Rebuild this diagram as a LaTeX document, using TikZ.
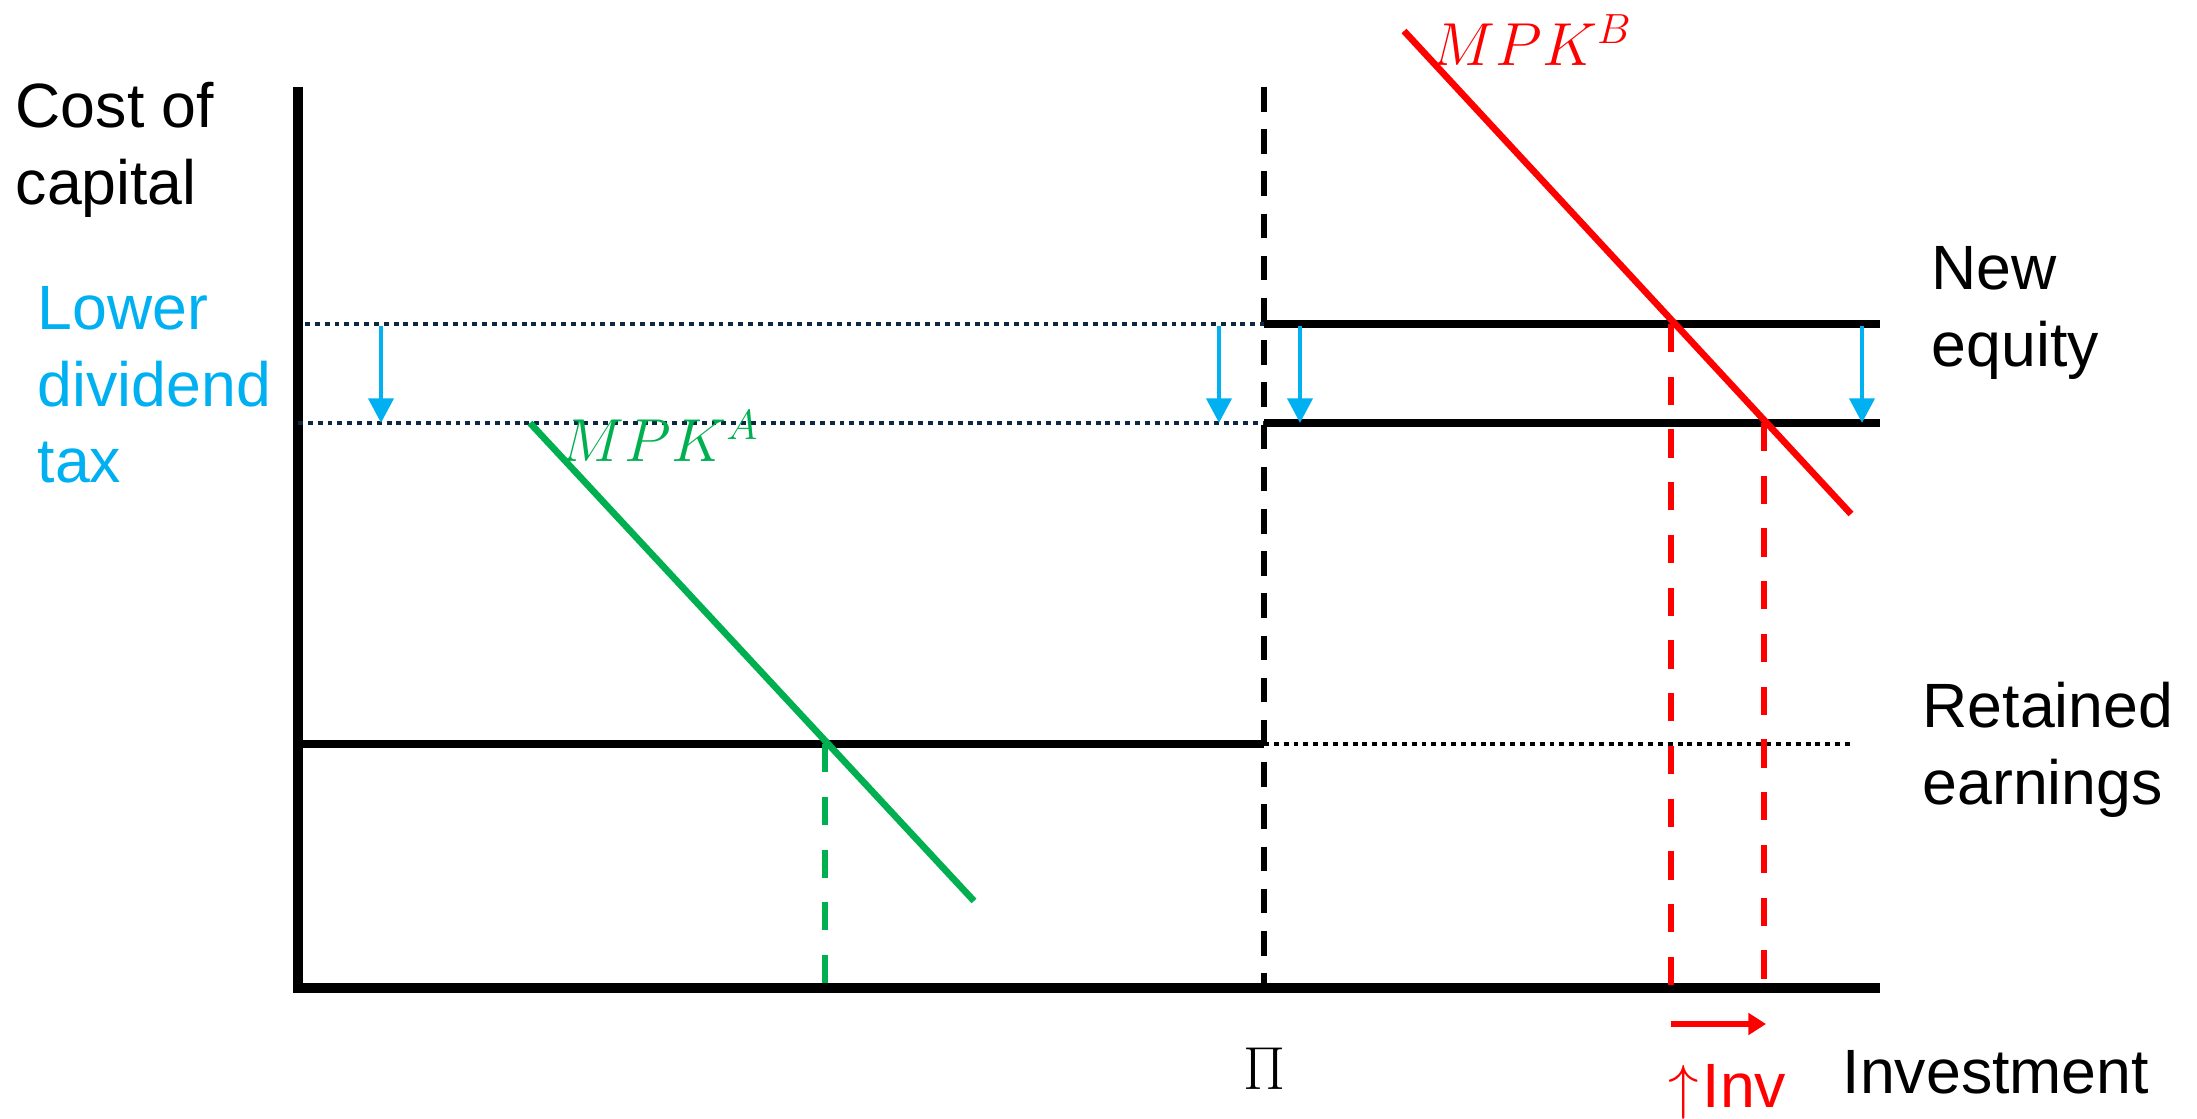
\documentclass[tikz,border=0pt]{standalone}
\usepackage{fontspec}
\setmainfont{Liberation Sans}
\usetikzlibrary{arrows.meta}
\definecolor{TaxBlue}{HTML}{00B0F0}
\definecolor{CurveGreen}{HTML}{00B050}
\definecolor{CurveRed}{HTML}{FF0000}
\definecolor{DotNavy}{HTML}{0E2841}

\begin{document}
\begin{tikzpicture}[
  x=0.01cm, y=-0.01cm,
  lbl/.style={align=left, inner sep=0pt, font=\fontsize{17.8}{21.8}\selectfont},
  mathlbl/.style={inner sep=0pt, font=\fontsize{17.5}{21.5}\selectfont},
  axisline/.style={line width=3pt},
  levelline/.style={line width=2.2pt},
  guideline/.style={line width=1pt, DotNavy, dash pattern=on 1.4pt off 1.4pt},
  curveline/.style={line width=1.9pt},
  dropline/.style={line width=1.8pt, dash pattern=on 8pt off 7pt},
  shiftarr/.style={-{Triangle[length=7pt,width=7pt]}, line width=1.4pt, TaxBlue}
]
\useasboundingbox (0,0) rectangle (2197,1119);

% axes
\coordinate (O) at (298,988);
\coordinate (ytop) at (298,87);
\coordinate (xend) at (1880,988);
\draw[axisline] (ytop) -- (O) -- (xend);

% kink at Pi
\coordinate (pitop) at (1264,87);
\coordinate (pibot) at (1264,988);
\draw[line width=1.5pt, dash pattern=on 7pt off 5pt] (pitop) -- (pibot);

% levels
\coordinate (hiL) at (305,324);
\coordinate (hiK) at (1264,324);
\coordinate (hiR) at (1880,324);
\coordinate (loL) at (298,423);
\coordinate (loK) at (1264,423);
\coordinate (loR) at (1880,423);
\coordinate (reL) at (298,744);
\coordinate (reK) at (1264,744);
\coordinate (reR) at (1852,744);
\draw[guideline] (hiL) -- (hiK);
\draw[guideline] (loL) -- (loK);
\draw[levelline] (hiK) -- (hiR);
\draw[levelline] (loK) -- (loR);
\draw[levelline] (reL) -- (reK);
\draw[guideline, black] (reK) -- (reR);

% tax shift arrows
\foreach \xx [count=\i] in {381,1219,1300,1862} {
  \coordinate (s\i) at (\xx,326);
  \coordinate (e\i) at (\xx,423);
  \draw[shiftarr] (s\i) -- (e\i);
}

% MPK curves
\coordinate (gA) at (530,423);
\coordinate (gB) at (974,901);
\coordinate (gX) at (825,744);
\coordinate (gO) at (825,988);
\draw[curveline, CurveGreen] (gA) -- (gB);
\draw[dropline, CurveGreen] (gX) -- (gO);

\coordinate (rA) at (1404,31);
\coordinate (rB) at (1851,514);
\coordinate (rX1) at (1671,324);
\coordinate (rO1) at (1671,988);
\coordinate (rX2) at (1764,423);
\coordinate (rO2) at (1764,988);
\draw[curveline, CurveRed] (rA) -- (rB);
\draw[dropline, CurveRed] (rX1) -- (rO1);
\draw[dropline, CurveRed] (rX2) -- (rO2);

% investment rise
\coordinate (invL) at (1671,1024);
\coordinate (invR) at (1766,1024);
\draw[-{Triangle[length=5pt,width=6pt]}, line width=1.6pt, CurveRed] (invL) -- (invR);

% labels
\node[lbl, anchor=west] (cost) at (15,150) {Cost of\\capital};
\node[lbl, anchor=west, TaxBlue] (tax) at (37,385) {Lower\\dividend\\tax};
\node[lbl, anchor=west] (neweq) at (1931,313) {New\\equity};
\node[lbl, anchor=west] (retain) at (1922,750) {Retained\\earnings};
\node[lbl, anchor=west] (invest) at (1842,1072) {Investment};
\node[mathlbl] (pi) at (1265,1069) {$\Pi$};
\node[lbl, anchor=west, CurveRed] (uparr) at (1668,1092) {$\uparrow$\kern1pt Inv};
\node[mathlbl, CurveGreen] (mpka) at (660,436) {$MPK^A$};
\node[mathlbl, CurveRed] (mpkb) at (1532,40) {$MPK^B$};
\end{tikzpicture}
\end{document}
